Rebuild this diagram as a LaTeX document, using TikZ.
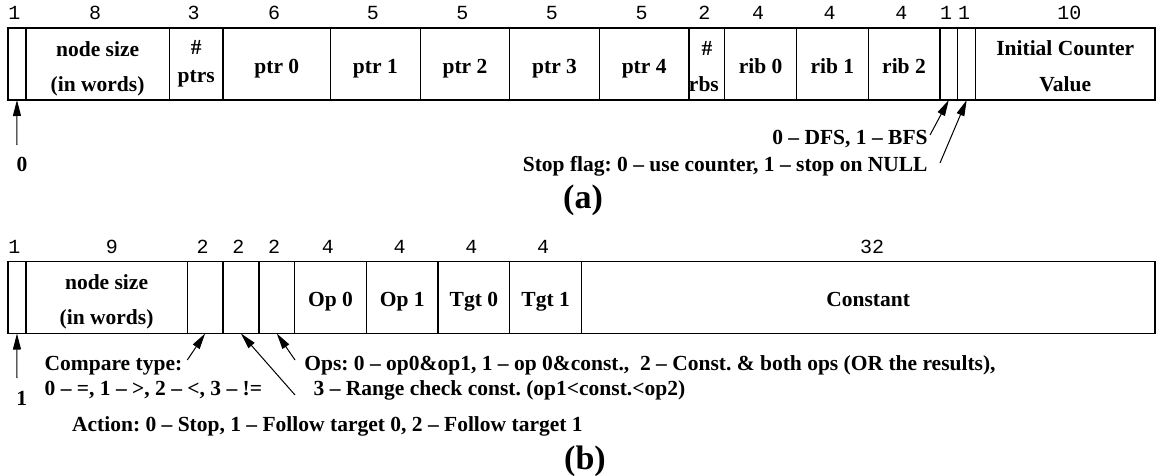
\documentclass[tikz,border=0pt]{standalone}
\usepackage{fontspec}
\setmainfont{Liberation Serif}
\newfontfamily\monofont{Liberation Mono}
\usetikzlibrary{arrows.meta,calc}
\frenchspacing
\newcommand\lblfont{\fontsize{10.75pt}{13pt}\selectfont\bfseries}
\newcommand\numfont{\fontsize{10pt}{12pt}\selectfont\monofont}
\newcommand\capfont{\fontsize{17pt}{20pt}\selectfont\bfseries}

\begin{document}
\begin{tikzpicture}[x=0.5pt,y=-0.5pt,
  cell/.style={draw, line width=0.65pt, rectangle, inner sep=0pt, outer sep=0pt,
               minimum height=36pt, anchor=west},
  bits/.style={minimum width=#1*8.96pt},
  num/.style={font=\numfont, anchor=base, inner sep=0pt, xshift=-1.3pt},
  lbl/.style={font=\lblfont, anchor=base, inner sep=0pt},
  note/.style={font=\lblfont, anchor=base west, inner sep=0pt},
  partcap/.style={font=\capfont, anchor=base, inner sep=0pt},
  arr/.style={-{Triangle[length=8pt,width=4pt]}, line width=0.5pt}]
\useasboundingbox (0,0) rectangle (1156,476);

% ---------------- (a) traversal descriptor ----------------
\node[cell,bits=1]  (a0)  at (8,64) {};
\node[cell,bits=8]  (a1)  at (a0.east) {};
\node[cell,bits=3]  (a2)  at (a1.east) {};
\node[cell,bits=6]  (a3)  at (a2.east) {};
\node[cell,bits=5]  (a4)  at (a3.east) {};
\node[cell,bits=5]  (a5)  at (a4.east) {};
\node[cell,bits=5]  (a6)  at (a5.east) {};
\node[cell,bits=5]  (a7)  at (a6.east) {};
\node[cell,bits=2]  (a8)  at (a7.east) {};
\node[cell,bits=4]  (a9)  at (a8.east) {};
\node[cell,bits=4]  (a10) at (a9.east) {};
\node[cell,bits=4]  (a11) at (a10.east) {};
\node[cell,bits=1]  (a12) at (a11.east) {};
\node[cell,bits=1]  (a13) at (a12.east) {};
\node[cell,bits=10] (a14) at (a13.east) {};

% field widths
\node[num] (na0)  at ($(a0.north)+(0,-8)$)  {1};
\node[num] (na1)  at ($(a1.north)+(0,-8)$)  {8};
\node[num] (na2)  at ($(a2.north)+(0,-8)$)  {3};
\node[num] (na3)  at ($(a3.north)+(0,-8)$)  {6};
\node[num] (na4)  at ($(a4.north)+(0,-8)$)  {5};
\node[num] (na5)  at ($(a5.north)+(0,-8)$)  {5};
\node[num] (na6)  at ($(a6.north)+(0,-8)$)  {5};
\node[num] (na7)  at ($(a7.north)+(0,-8)$)  {5};
\node[num] (na8)  at ($(a8.north)+(0,-8)$)  {2};
\node[num] (na9)  at ($(a9.north)+(0,-8)$)  {4};
\node[num] (na10) at ($(a10.north)+(0,-8)$) {4};
\node[num] (na11) at ($(a11.north)+(0,-8)$) {4};
\node[num] (na12) at ($(a12.north)+(0,-8)$) {1};
\node[num] (na13) at ($(a13.north)+(0,-8)$) {1};
\node[num,xshift=3.3pt] (na14) at ($(a14.north)+(0,-8)$) {10};

% field names
\node[lbl] (ta1a) at ($(a1.north)+(0,28.7)$) {node size};
\node[lbl] (ta1b) at ($(a1.north)+(0,63)$)   {(in words)};
\node[lbl] (ta2a) at ($(a2.north)+(0,27)$)   {\#};
\node[lbl] (ta2b) at ($(a2.north)+(0,54.7)$) {ptrs};
\node[lbl] (ta3)  at ($(a3.north)+(0,46)$)   {ptr 0};
\node[lbl] (ta4)  at ($(a4.north)+(0,46)$)   {ptr 1};
\node[lbl] (ta5)  at ($(a5.north)+(0,46)$)   {ptr 2};
\node[lbl] (ta6)  at ($(a6.north)+(0,46)$)   {ptr 3};
\node[lbl] (ta7)  at ($(a7.north)+(0,46)$)   {ptr 4};
\node[lbl] (ta8a) at ($(a8.north)+(0,28)$)   {\#};
\node[lbl,xshift=-1.5pt] (ta8b) at ($(a8.north)+(0,63.7)$) {rbs};
\node[lbl] (ta9)  at ($(a9.north)+(0,46)$)   {rib 0};
\node[lbl] (ta10) at ($(a10.north)+(0,46)$)  {rib 1};
\node[lbl] (ta11) at ($(a11.north)+(0,46)$)  {rib 2};
\node[lbl] (ta14a) at ($(a14.north)+(0,27.5)$) {Initial Counter};
\node[lbl] (ta14b) at ($(a14.north)+(0,63.7)$) {Value};

% annotations
\coordinate (a0tail)   at (17,145);
\coordinate (dfstail)  at (930,135);
\coordinate (stoptail) at (940,163);
\draw[arr] (a0tail)   -- (a0.south);
\draw[arr] (dfstail)  -- (a12.south);
\draw[arr] (stoptail) -- (a13.south);
\node[lbl] (zero) at (22,171.5) {0};
\node[note,anchor=base east] (dfs)  at (928,145)   {0 – DFS, 1 – BFS};
\node[note,anchor=base east] (stop) at (928,171.7) {Stop flag: 0 – use counter, 1 – stop on NULL};
\node[partcap] (capa) at (583,208) {(a)};

% ---------------- (b) compare descriptor ----------------
\node[cell,bits=1]  (b0) at (8,297.5) {};
\node[cell,bits=9]  (b1) at (b0.east) {};
\node[cell,bits=2]  (b2) at (b1.east) {};
\node[cell,bits=2]  (b3) at (b2.east) {};
\node[cell,bits=2]  (b4) at (b3.east) {};
\node[cell,bits=4]  (b5) at (b4.east) {};
\node[cell,bits=4]  (b6) at (b5.east) {};
\node[cell,bits=4]  (b7) at (b6.east) {};
\node[cell,bits=4]  (b8) at (b7.east) {};
\node[cell,bits=32] (b9) at (b8.east) {};

\node[num] (nb0) at ($(b0.north)+(0,-7.7)$) {1};
\node[num,xshift=4pt] (nb1) at ($(b1.north)+(0,-7.7)$) {9};
\node[num] (nb2) at ($(b2.north)+(0,-7.7)$) {2};
\node[num] (nb3) at ($(b3.north)+(0,-7.7)$) {2};
\node[num] (nb4) at ($(b4.north)+(0,-7.7)$) {2};
\node[num] (nb5) at ($(b5.north)+(0,-7.7)$) {4};
\node[num] (nb6) at ($(b6.north)+(0,-7.7)$) {4};
\node[num] (nb7) at ($(b7.north)+(0,-7.7)$) {4};
\node[num] (nb8) at ($(b8.north)+(0,-7.7)$) {4};
\node[num,xshift=3.3pt] (nb9) at ($(b9.north)+(0,-7.7)$) {32};

\node[lbl] (tb1a) at ($(b1.north)+(0,27.6)$) {node size};
\node[lbl] (tb1b) at ($(b1.north)+(0,63.3)$) {(in words)};
\node[lbl] (tb5)  at ($(b5.north)+(0,45)$)   {Op 0};
\node[lbl] (tb6)  at ($(b6.north)+(0,45)$)   {Op 1};
\node[lbl] (tb7)  at ($(b7.north)+(0,45)$)   {Tgt 0};
\node[lbl] (tb8)  at ($(b8.north)+(0,45)$)   {Tgt 1};
\node[lbl] (tb9)  at ($(b9.north)+(0,45)$)   {Constant};

\coordinate (b0tail)  at (17,378);
\coordinate (cmptail) at (187.3,360);
\coordinate (acttail) at (295,395);
\coordinate (opstail) at (295,360);
\draw[arr] (b0tail)  -- (b0.south);
\draw[arr] (cmptail) -- (b2.south);
\draw[arr] (acttail) -- (b3.south);
\draw[arr] (opstail) -- (b4.south);
\node[lbl]  (one)  at (21.7,405)  {1};
\node[note] (cmp1) at (44.3,370)  {Compare type:};
\node[note] (cmp2) at (44.3,395)  {0 – =, 1 – >, 2 – <, 3 – !=};
\node[note] (ops1) at (304,370)   {Ops: 0 – op0\&op1, 1 – op 0\&const.,\ \ 2 – Const. \& both ops (OR the results),};
\node[note] (ops2) at (313.3,395) {3 – Range check const. (op1<const.<op2)};
\node[note] (act)  at (71.7,431.7) {Action: 0 – Stop, 1 – Follow target 0, 2 – Follow target 1};
\node[partcap] (capb) at (585,469) {(b)};
\end{tikzpicture}
\end{document}
